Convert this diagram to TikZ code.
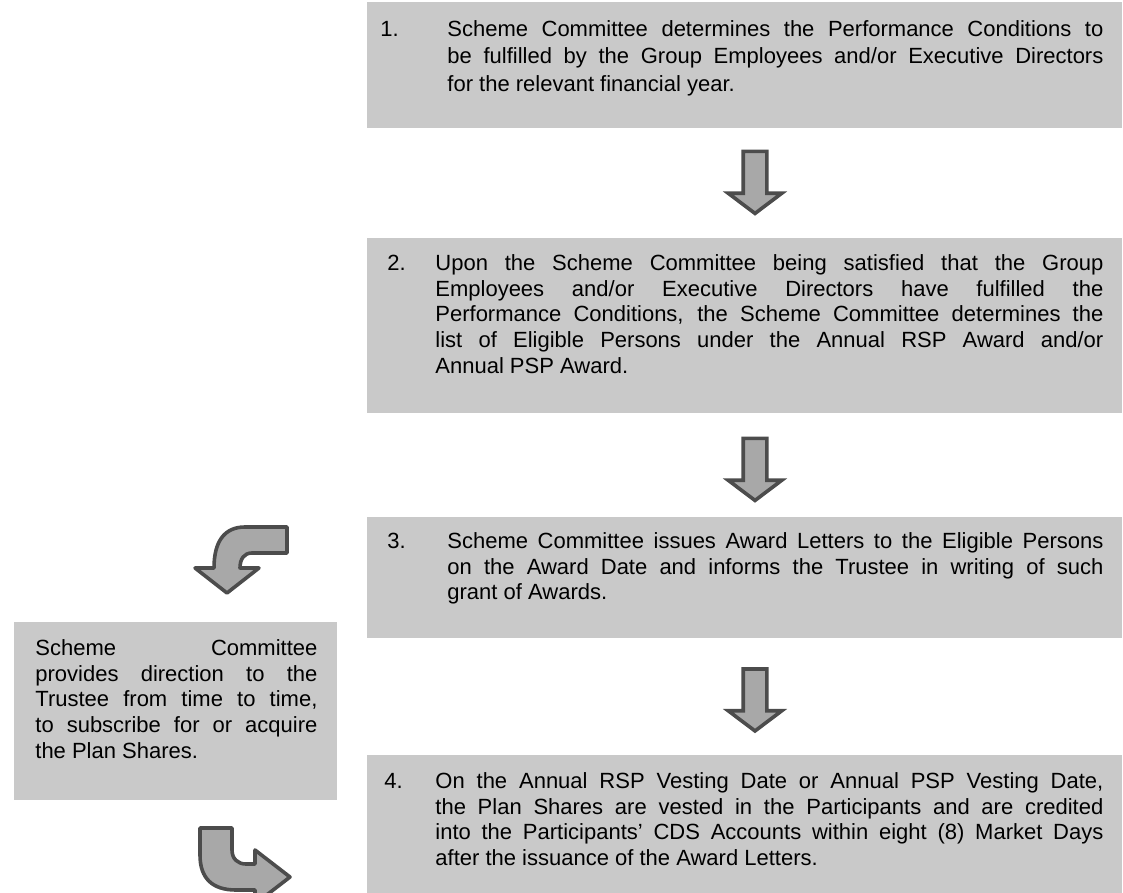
\documentclass[tikz,border=0pt]{standalone}
\usepackage{fontspec}
\setmainfont{Liberation Sans}
\usepackage{tikz}
\usetikzlibrary{positioning,shapes.arrows}

\definecolor{panelgray}{gray}{0.79}
\definecolor{arrowbody}{gray}{0.66}
\definecolor{arrowrim}{gray}{0.3}

\begin{document}
\begin{tikzpicture}[
  panel/.style={fill=panelgray, draw=none, anchor=north west, inner sep=0pt},
  steptext/.style={font=\fontsize{11pt}{12.85pt}\selectfont, align=justify, inner sep=0pt},
  stepnum/.style={font=\fontsize{11pt}{12.85pt}\selectfont, inner sep=0pt, anchor=base west},
  downarrow/.style={single arrow, shape border rotate=270, fill=arrowbody, draw=arrowrim,
    line width=1.8pt, inner sep=5pt, minimum width=0pt, minimum height=31pt,
    single arrow head extend=7.5pt, single arrow tip angle=106},
  bentarrow/.style={fill=arrowbody, draw=arrowrim, line width=1.8pt, line join=round},
  x=0.5pt,y=-0.5pt
]
\useasboundingbox (0,0) rectangle (1123,893);

% step boxes
\node[panel, minimum width=377.5pt, minimum height=63pt] (b1) at (367,2) {};
\node[panel, minimum width=377.5pt, minimum height=87.5pt] (b2) at (367,238) {};
\node[panel, minimum width=377.5pt, minimum height=60.5pt] (b3) at (367,517) {};
\node[panel, minimum width=377.5pt, minimum height=71pt] (b4) at (367,755) {};
\node[panel, minimum width=161.5pt, minimum height=89pt] (b5) at (14,622) {};

% texts
\node[steptext, font=\fontsize{11pt}{13.75pt}\selectfont, text width=328pt,
  below right=9pt and 40pt of b1.north west] (t1) {Scheme Committee determines the Performance Conditions to\linebreak
  be fulfilled by the Group Employees and/or Executive Directors\linebreak
  for the relevant financial year.};
\node[steptext, text width=334pt, below right=8pt and 34pt of b2.north west] (t2) {Upon the Scheme Committee being satisfied that the Group\linebreak
  Employees and/or Executive Directors have fulfilled the\linebreak
  Performance Conditions, the Scheme Committee determines the\linebreak
  list of Eligible Persons under the Annual RSP Award and/or\linebreak
  Annual PSP Award.};
\node[steptext, text width=328pt, below right=7.5pt and 40pt of b3.north west] (t3) {Scheme Committee issues Award Letters to the Eligible Persons\linebreak
  on the Award Date and informs the Trustee in writing of such\linebreak
  grant of Awards.};
\node[steptext, text width=334pt, below right=8.5pt and 34pt of b4.north west] (t4) {On the Annual RSP Vesting Date or Annual PSP Vesting Date,\linebreak
  the Plan Shares are vested in the Participants and are credited\linebreak
  into the Participants' CDS Accounts within eight (8) Market Days\linebreak
  after the issuance of the Award Letters.};
\node[steptext, text width=141pt, below right=8.5pt and 10.5pt of b5.north west] (t5) {Scheme Committee\linebreak
  provides direction to the\linebreak
  Trustee from time to time,\linebreak
  to subscribe for or acquire\linebreak
  the Plan Shares.};

% numbers, on the first line of each text
\node[stepnum] (n1) at ([xshift=6.5pt]b1.west |- t1.base) {1.};
\node[stepnum] (n2) at ([xshift=10pt]b2.west |- t2.base) {2.};
\node[stepnum] (n3) at ([xshift=10pt]b3.west |- t3.base) {3.};
\node[stepnum] (n4) at ([xshift=8.5pt]b4.west |- t4.base) {4.};

% arrows between the steps
\node[downarrow] (a1) at (755,178) {};
\node[downarrow] (a2) at (755,465) {};
\node[downarrow] (a3) at (755,695.5) {};

% bent arrows beside the trustee box
\filldraw[bentarrow] (287,527) -- (245,527) .. controls (224,527) and (214,542) .. (214,568)
  -- (195,568) -- (227,593) -- (259,568) -- (240,568)
  .. controls (240,559) and (244,553) .. (252,553) -- (287,553) -- cycle;
\filldraw[bentarrow] (200,828) -- (232,828) -- (232,850)
  .. controls (232,859) and (238,864) .. (246,864) -- (255,864) -- (255,850)
  -- (290,877) -- (255,904) -- (255,890) -- (236,890)
  .. controls (212,890) and (200,878) .. (200,855) -- cycle;
\end{tikzpicture}
\end{document}
